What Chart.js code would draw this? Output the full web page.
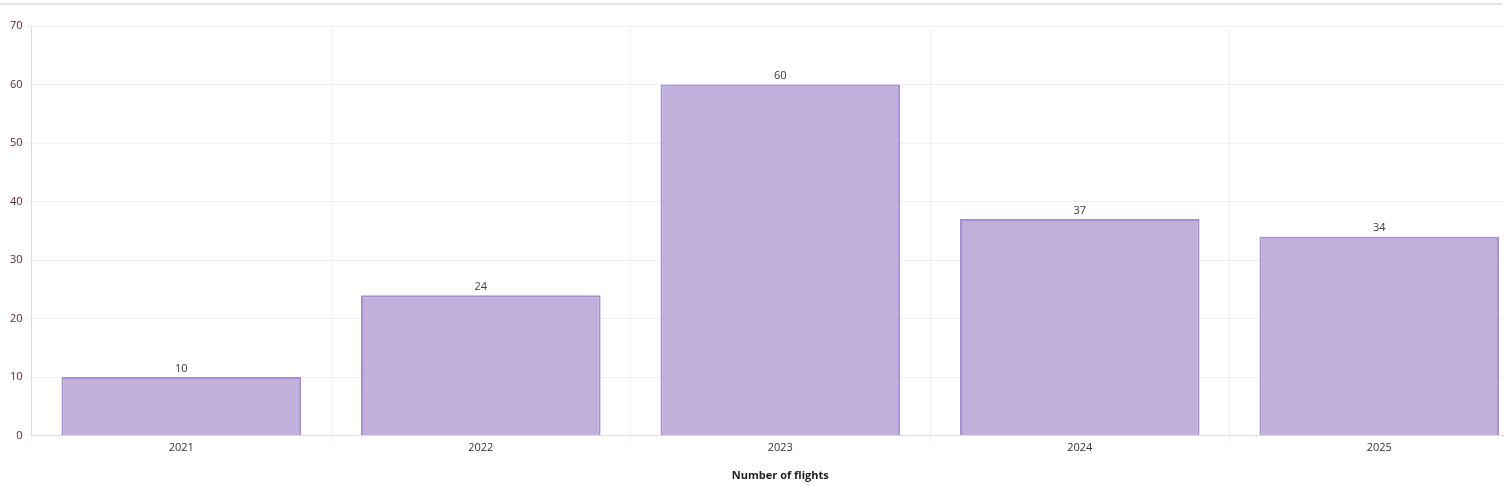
<!DOCTYPE html>
<html>
<head>
<meta charset="utf-8">
<script src="https://cdn.jsdelivr.net/npm/chart.js@4"></script>
<style>
  html, body { margin: 0; padding: 0; background: #fff; overflow: hidden; }
  #wrap { position: relative; width: 1504px; height: 486px; overflow: hidden; }
  #topline { position: absolute; left: 0; top: 3px; width: 1502px; height: 2px; background: #e2e2e2; z-index: 1; }
  canvas { position: absolute; left: 0; top: 0; }
</style>
</head>
<body>
<div id="wrap">
  <div id="topline"></div>
  <canvas id="flightsChart" width="1533" height="486"></canvas>
</div>
<script>
// chart data
const years = ['2021', '2022', '2023', '2024', '2025'];
const flights = [10, 24, 60, 37, 34];
const yTicks = [0, 10, 20, 30, 40, 50, 60, 70];

// small plugin to print the value above each bar
const valueLabels = {
    id: 'valueLabels',
    afterDatasetsDraw(chart) {
        const ctx = chart.ctx;
        const meta = chart.getDatasetMeta(0);
        ctx.save();
        ctx.font = '11px "Open Sans", sans-serif';
        ctx.fillStyle = '#3a3a3a';
        ctx.textAlign = 'center';
        ctx.textBaseline = 'bottom';
        meta.data.forEach((bar, i) => {
            ctx.fillText(flights[i], bar.x, bar.y - 3);
        });
        ctx.restore();
    }
};

const ctx = document.getElementById('flightsChart').getContext('2d');
new Chart(ctx, {
    type: 'bar',
    data: {
        labels: years,
        datasets: [{
            label: 'Flights',
            data: flights,
            backgroundColor: '#c2b0dc',
            borderColor: '#a590cf',
            borderWidth: 2,
            borderSkipped: 'bottom',
            categoryPercentage: 0.8,
            barPercentage: 1
        }]
    },
    options: {
        responsive: false,
        animation: false,
        layout: { padding: { top: 26, right: 4, left: 7, bottom: 4 } },
        plugins: {
            legend: { display: false },
            tooltip: { enabled: false }
        },
        scales: {
            x: {
                grid: { color: '#f0f0f0', tickLength: 6, offset: true },
                border: { color: '#dcdcdc' },
                ticks: { color: '#333', font: { family: '"Open Sans", sans-serif', size: 11 }, padding: 0 },
                title: {
                    display: true,
                    text: 'Number of flights',
                    color: '#222',
                    font: { family: '"Open Sans", sans-serif', size: 11, weight: 'bold' },
                    padding: { top: 14, bottom: 0 }
                }
            },
            y: {
                min: 0,
                max: 70,
                afterBuildTicks(axis) { axis.ticks = yTicks.map(v => ({ value: v })); },
                grid: { color: '#f0f0f0', tickLength: 6 },
                border: { color: '#dcdcdc' },
                ticks: { color: '#5a2a2a', font: { family: '"Open Sans", sans-serif', size: 11 }, padding: 3 }
            }
        }
    },
    plugins: [valueLabels]
});
</script>
</body>
</html>
